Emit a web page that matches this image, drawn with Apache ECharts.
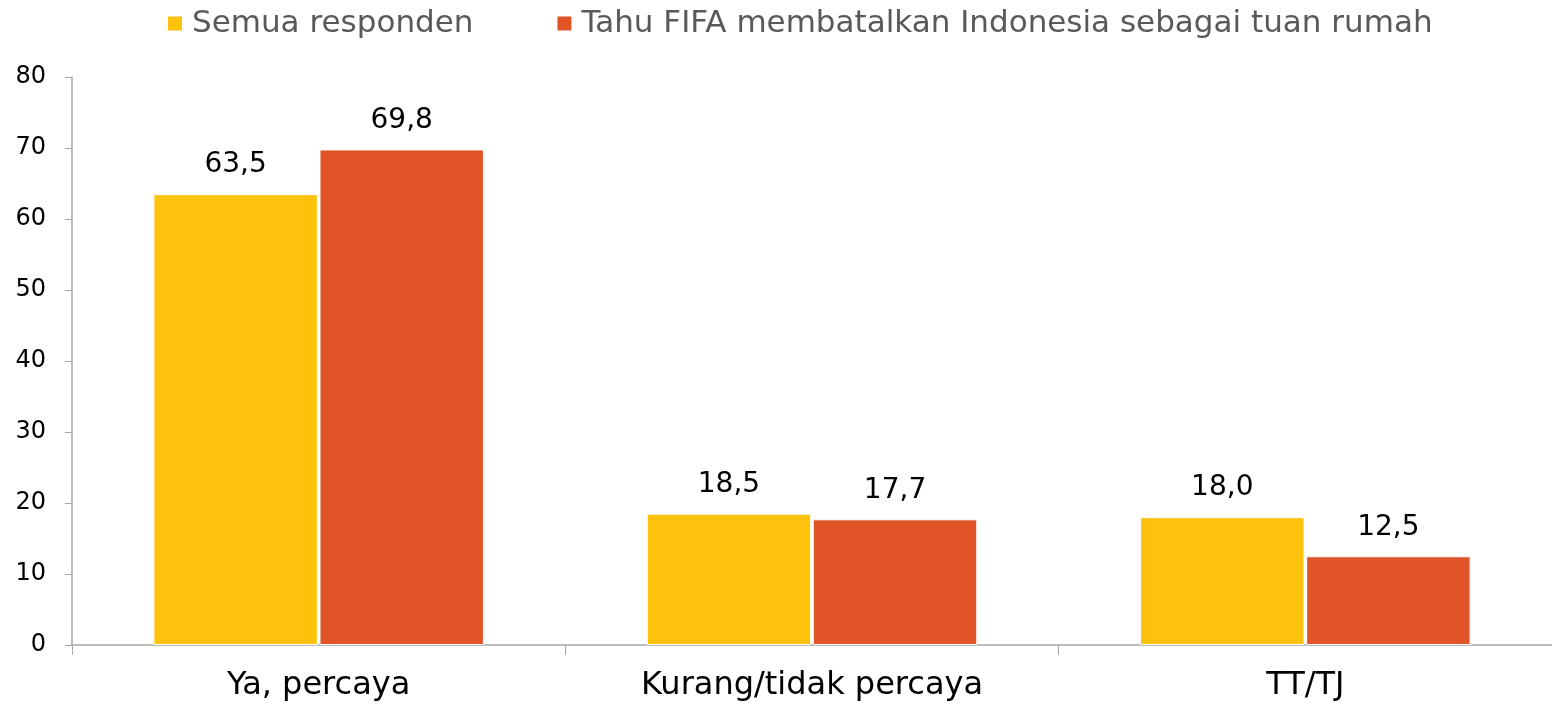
<!DOCTYPE html>
<html>
<head>
<meta charset="utf-8">
<script src="https://cdn.jsdelivr.net/npm/echarts@6/dist/echarts.min.js"></script>
<style>
  html, body { margin: 0; padding: 0; background: #fff; }
  #chart { width: 1552px; height: 703px; }
</style>
</head>
<body>
<div id="chart"></div>
<script>
// Data
const categories = ['Ya, percaya', 'Kurang/tidak percaya', 'TT/TJ'];
const seriesNames = ['Semua responden', 'Tahu FIFA membatalkan Indonesia sebagai tuan rumah'];
const semuaResponden = [63.5, 18.5, 18.0];
const tahuFifa = [69.8, 17.7, 12.5];
const yTicks = [0, 10, 20, 30, 40, 50, 60, 70, 80];

const fontFamily = '"DejaVu Sans", "Noto Sans", sans-serif';
const fmt = v => v.toFixed(1).replace('.', ',');

const chart = echarts.init(document.getElementById('chart'));
window.onresize = () => chart.resize();

const labelStyle = {
  show: true,
  position: 'top',
  distance: 15,
  color: '#000',
  fontSize: 28,
  fontFamily: fontFamily,
  formatter: p => fmt(p.value)
};

const option = {
  animation: false,
  legend: {
    top: 3,
    left: 161,
    itemWidth: 16,
    itemHeight: 16,
    itemGap: 82,
    icon: 'rect',
    textStyle: { color: '#595959', fontSize: 31, fontFamily: fontFamily, padding: [0, 0, 0, 4] }
  },
  grid: { left: 72, right: -4, top: 77, bottom: 58 },
  xAxis: {
    type: 'category',
    data: categories,
    axisLine: { lineStyle: { color: '#A6A6A6', width: 1.5 } },
    axisTick: { show: true, length: 10, lineStyle: { color: '#A6A6A6' } },
    axisLabel: { color: '#000', fontSize: 32, fontFamily: fontFamily, margin: 25 }
  },
  yAxis: {
    type: 'value',
    min: yTicks[0],
    max: yTicks[yTicks.length - 1],
    interval: 10,
    splitLine: { show: false },
    axisLine: { show: true, lineStyle: { color: '#A6A6A6', width: 1.5 } },
    axisTick: { show: true, length: 7, lineStyle: { color: '#A6A6A6' } },
    axisLabel: { color: '#000', fontSize: 24, fontFamily: fontFamily, margin: 26 }
  },
  series: [
    {
      name: seriesNames[0],
      type: 'bar',
      data: semuaResponden,
      barGap: '1%',
      barCategoryGap: '33%',
      itemStyle: { color: '#FDC20B', borderColor: '#fff', borderWidth: 1 },
      label: labelStyle
    },
    {
      name: seriesNames[1],
      type: 'bar',
      data: tahuFifa,
      itemStyle: { color: '#E05427', borderColor: '#fff', borderWidth: 1 },
      label: labelStyle
    }
  ]
};

chart.setOption(option);
</script>
</body>
</html>
